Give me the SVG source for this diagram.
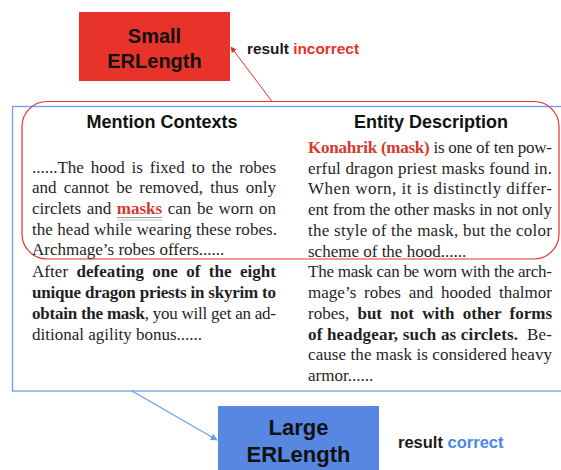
<svg xmlns="http://www.w3.org/2000/svg" width="561" height="470" viewBox="0 0 561 470">
<style>
.body{font-family:"Liberation Serif","Times New Roman",serif;font-size:17px;fill:#1f1f1f}
.b{font-weight:bold}
.hl{fill:#d8382c;font-weight:bold}
.head{font-family:"Liberation Sans",Arial,sans-serif;font-size:18px;font-weight:bold;fill:#111}
.lbl{font-family:"Liberation Sans",Arial,sans-serif;font-weight:bold;fill:#111;text-anchor:middle}
.res{font-family:"Liberation Sans",Arial,sans-serif;font-weight:bold;fill:#1a1a1a}
</style>
<defs>
<marker id="ar" viewBox="0 0 10 10" refX="9" refY="5" markerWidth="6" markerHeight="6" orient="auto" markerUnits="userSpaceOnUse">
<path d="M0,0 L10,5 L0,10 z" fill="#e8322a"/>
</marker>
<marker id="ab" viewBox="0 0 10 10" refX="9" refY="5" markerWidth="7" markerHeight="7" orient="auto" markerUnits="userSpaceOnUse">
<path d="M0,0 L10,5 L0,10 z" fill="#6d9eeb"/>
</marker>
</defs>
<rect width="561" height="470" fill="#ffffff"/>

<g id="context-box">
<rect x="12.5" y="106.5" width="560" height="284.5" fill="none" stroke="#6d9eeb" stroke-width="1.3"/>
</g>
<g id="highlight">
<rect x="22" y="101.5" width="537" height="157.5" rx="25" ry="25" fill="none" stroke="#e8322a" stroke-width="1.2"/>
</g>

<g id="mention-contexts">
<text class="head" x="162" y="128" text-anchor="middle">Mention Contexts</text>
<text class="body" x="32" y="173" word-spacing="2.6" textLength="244" lengthAdjust="spacing">......The hood is fixed to the robes</text>
<text class="body" x="32" y="193" word-spacing="2.9" textLength="244" lengthAdjust="spacing">and cannot be removed, thus only</text>
<text class="body" x="32" y="214" word-spacing="1.3" textLength="244" lengthAdjust="spacing">circlets and <tspan class="hl">masks</tspan> can be worn on</text>
<line x1="117" y1="217.5" x2="162" y2="217.5" stroke="#999" stroke-width="1"/>
<line x1="117" y1="220" x2="162" y2="220" stroke="#c4c4c4" stroke-width="1"/>
<text class="body" x="32" y="235" textLength="245" lengthAdjust="spacing">the head while wearing these robes.</text>
<text class="body" x="32" y="255">Archmage’s robes offers......</text>
<text class="body" x="32" y="277" word-spacing="4" textLength="244" lengthAdjust="spacing">After <tspan class="b">defeating one of the eight</tspan></text>
<text class="body b" x="32" y="298" textLength="244" lengthAdjust="spacing">unique dragon priests in skyrim to</text>
<text class="body" x="32" y="319" textLength="244" lengthAdjust="spacing"><tspan class="b">obtain the mask</tspan>, you will get an ad-</text>
<text class="body" x="32" y="340">ditional agility bonus......</text>
</g>

<g id="entity-description">
<text class="head" x="431" y="128" text-anchor="middle">Entity Description</text>
<text class="body" x="308" y="153" textLength="244" lengthAdjust="spacing"><tspan class="hl">Konahrik (mask)</tspan> is one of ten pow-</text>
<text class="body" x="308" y="174" textLength="244" lengthAdjust="spacing">erful dragon priest masks found in.</text>
<text class="body" x="308" y="194" textLength="244" lengthAdjust="spacing">When worn, it is distinctly differ-</text>
<text class="body" x="308" y="215" textLength="244" lengthAdjust="spacing">ent from the other masks in not only</text>
<text class="body" x="308" y="236" textLength="244" lengthAdjust="spacing">the style of the mask, but the color</text>
<text class="body" x="308" y="257">scheme of the hood......</text>
<text class="body" x="308" y="277" textLength="244" lengthAdjust="spacing">The mask can be worn with the arch-</text>
<text class="body" x="308" y="298" word-spacing="3.4" textLength="244" lengthAdjust="spacing">mage’s robes and hooded thalmor</text>
<text class="body" x="308" y="319" word-spacing="4" textLength="244" lengthAdjust="spacing">robes, <tspan class="b">but not with other forms</tspan></text>
<text class="body" x="308" y="340" textLength="244" lengthAdjust="spacing" xml:space="preserve"><tspan class="b">of headgear, such as circlets.</tspan>  Be-</text>
<text class="body" x="308" y="360" textLength="244" lengthAdjust="spacing">cause the mask is considered heavy</text>
<text class="body" x="308" y="381">armor......</text>
</g>

<g id="small-erlength">
<rect x="79" y="12" width="151" height="69" fill="#e8332a"/>
<text class="lbl" x="154.5" y="43" font-size="20">Small</text>
<text class="lbl" x="154.5" y="68" font-size="20">ERLength</text>
</g>

<g id="large-erlength">
<rect x="218" y="406" width="161" height="70" fill="#5787e0"/>
<text class="lbl" x="298.5" y="435" font-size="22">Large</text>
<text class="lbl" x="298.5" y="462" font-size="22">ERLength</text>
</g>

<g id="labels">
<text class="res" x="247" y="54" font-size="15.4">result <tspan fill="#e8322a">incorrect</tspan></text>
<text class="res" x="398" y="448" font-size="16.5">result <tspan fill="#4a86e8">correct</tspan></text>
</g>

<g id="connectors">
<line x1="272" y1="101.5" x2="231" y2="47" stroke="#e8322a" stroke-width="1" marker-end="url(#ar)"/>
<line x1="132" y1="391" x2="217" y2="440" stroke="#6d9eeb" stroke-width="1.2" marker-end="url(#ab)"/>
</g>
</svg>
